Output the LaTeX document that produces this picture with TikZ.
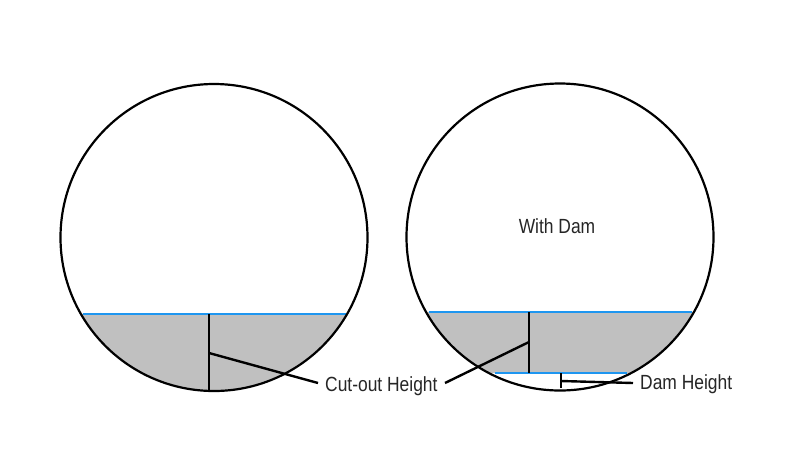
\documentclass[tikz,border=0pt]{standalone}
\usepackage{fontspec}
\setmainfont{Liberation Sans}[FakeStretch=.85]
\definecolor{fillgrey}{RGB}{192,192,192}
\definecolor{waterblue}{RGB}{30,150,240}
\tikzset{
  outline/.style={draw=black,line width=2.2pt},
  level/.style={draw=waterblue,line width=2.2pt},
  thicklevel/.style={draw=waterblue,line width=2.8pt},
  leader/.style={draw=black,line width=2.4pt},
  lbl/.style={font=\fontsize{20.5}{22}\selectfont,inner sep=0pt,text=black!85}
}
\begin{document}
\begin{tikzpicture}[x=1pt,y=-1pt]
\useasboundingbox (0,0) rectangle (798,467);
\fill[white] (0,0) rectangle (798,467);
% left circle
\begin{scope}
\clip (214,237.5) circle (153.5);
\fill[fillgrey] (50,314) rectangle (380,400);
\end{scope}
\draw[level] (82.5,314) -- (346,314);
\node[circle,minimum size=307,inner sep=0pt,outline] (cl) at (214,237.5) {};
% right circle
\begin{scope}
\clip (560,237) circle (153.5);
\fill[fillgrey] (400,312) rectangle (720,373);
\end{scope}
\draw[thicklevel] (428.5,312) -- (692,312);
\draw[thicklevel] (495,373) -- (627,373);
\node[circle,minimum size=307,inner sep=0pt,outline] (cr) at (560,237) {};
% labels
\node[lbl,anchor=west] (cut) at (325,386.5) {Cut-out Height};
\node[lbl,anchor=west] (dam) at (640,384.5) {Dam Height};
\node[lbl] (with) at (557,226) {With Dam};
% left measure
\coordinate (lt) at (209,314);
\coordinate (lb) at (209,391);
\coordinate (lm) at (209,353);
\coordinate (le) at (318,383);
\draw[leader] (lt) -- (lb);
\draw[leader] (lm) -- (le);
% right measure
\coordinate (rt) at (529,312);
\coordinate (rb) at (529,373);
\coordinate (rm) at (529,342);
\coordinate (re) at (445,383);
\draw[leader] (rt) -- (rb);
\draw[leader] (rm) -- (re);
% dam measure
\coordinate (dt) at (561,373);
\coordinate (db) at (561,388);
\coordinate (dm) at (561,381);
\coordinate (de) at (633,383);
\draw[leader] (dt) -- (db);
\draw[leader] (dm) -- (de);
\end{tikzpicture}
\end{document}
